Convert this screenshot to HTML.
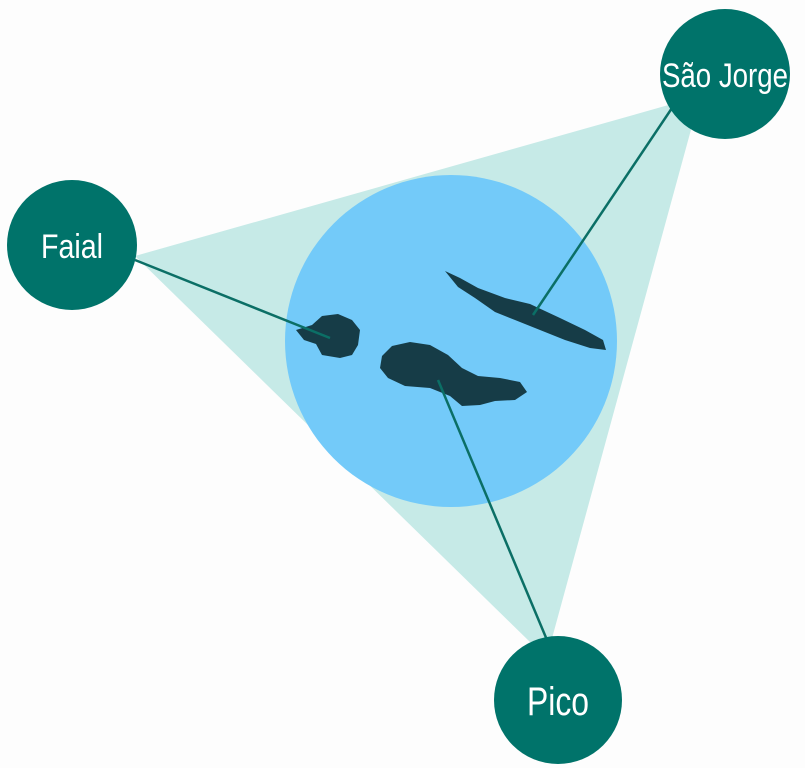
<!DOCTYPE html>
<html><head><meta charset="utf-8"><style>
html,body{margin:0;padding:0;background:#fff;}
svg{display:block}
</style></head><body>
<svg width="805" height="768" viewBox="0 0 805 768" xmlns="http://www.w3.org/2000/svg">
<rect width="805" height="768" fill="#fdfdfd"/>
<polygon points="135,256 672,104 692,126 551,642 530,642" fill="#c6eae7"/>
<circle cx="451" cy="341" r="166" fill="#73caf9"/>
<!-- Faial -->
<path d="M296,330 L312,325 L322,316 L338,314 L352,320 L360,330 L358,345 L352,355 L340,358 L322,355 L316,344 L304,340 Z" fill="#163c47"/>
<!-- Pico -->
<path d="M382,356 L392,346 L410,342 L430,345 L448,355 L462,368 L478,376 L500,378 L520,382 L527,392 L515,400 L495,401 L480,405 L462,406 L450,396 L430,388 L405,386 L388,378 L380,368 Z" fill="#163c47"/>
<!-- Sao Jorge -->
<path d="M445,271 L460,278 L478,288 L505,298 L530,304 L560,318 L585,330 L603,340 L606,350 L590,348 L565,340 L540,330 L515,320 L495,312 L475,298 L458,287 Z" fill="#163c47"/>
<line x1="135" y1="260" x2="330" y2="338" stroke="#0b6f66" stroke-width="2.5"/>
<line x1="672" y1="108" x2="533" y2="315" stroke="#0b6f66" stroke-width="2.5"/>
<line x1="547" y1="640" x2="438" y2="380" stroke="#0b6f66" stroke-width="2.5"/>
<circle cx="72" cy="245" r="65" fill="#00736a"/>
<circle cx="725" cy="74" r="65" fill="#00736a"/>
<circle cx="558" cy="700" r="64" fill="#00736a"/>
<g font-family="Liberation Sans Narrow, Liberation Sans, sans-serif" fill="#fff" text-anchor="middle">
<text x="72" y="258" font-size="34" textLength="62" lengthAdjust="spacingAndGlyphs">Faial</text>
<text x="725" y="87" font-size="34" textLength="126" lengthAdjust="spacingAndGlyphs">São Jorge</text>
<text x="558" y="715" font-size="40" textLength="62" lengthAdjust="spacingAndGlyphs">Pico</text>
</g>
</svg>
</body></html>
